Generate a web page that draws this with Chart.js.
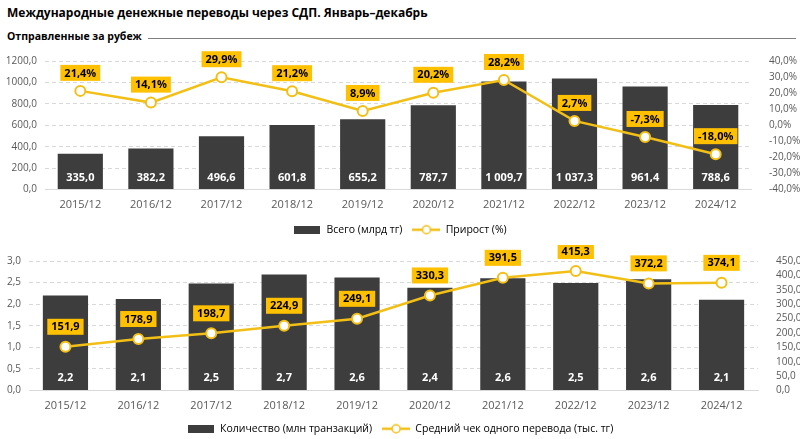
<!DOCTYPE html>
<html>
<head>
<meta charset="utf-8">
<script src="https://cdn.jsdelivr.net/npm/chart.js@4.4.1/dist/chart.umd.min.js"></script>
<style>
  body { margin: 0; background: #fff; width: 800px; height: 439px; overflow: hidden; position: relative; font-family: "Open Sans", sans-serif; }
  #title { position: absolute; left: 7px; top: 4px; font-size: 12px; font-weight: bold; color: #000; white-space: nowrap; }
  #subtitle { position: absolute; left: 7px; top: 29px; font-size: 10.5px; font-weight: bold; color: #000; white-space: nowrap; }
  #rule { position: absolute; left: 148px; right: 4px; top: 38px; border-top: 1px solid #7f7f7f; }
  #c1 { position: absolute; left: 0; top: 45px; }
  #c2 { position: absolute; left: 0; top: 245px; }
</style>
</head>
<body>
<div id="title">Международные денежные переводы через СДП. Январь–декабрь</div>
<div id="subtitle">Отправленные за рубеж</div>
<div id="rule"></div>
<canvas id="c1" width="800" height="200"></canvas>
<canvas id="c2" width="800" height="199"></canvas>
<script>
// data
const years = ["2015/12", "2016/12", "2017/12", "2018/12", "2019/12", "2020/12", "2021/12", "2022/12", "2023/12", "2024/12"];
const totalSum = [335.0, 382.2, 496.6, 601.8, 655.2, 787.7, 1009.7, 1037.3, 961.4, 788.6];
const growthPct = [21.4, 14.1, 29.9, 21.2, 8.9, 20.2, 28.2, 2.7, -7.3, -18.0];
const txCount = [2.2, 2.12, 2.48, 2.69, 2.62, 2.38, 2.6, 2.49, 2.58, 2.1];
const avgCheck = [151.9, 178.9, 198.7, 224.9, 249.1, 330.3, 391.5, 415.3, 372.2, 374.1];

const BAR = "#3d3d3d";
const GOLD = "#f2bf17";
const BOX = "#ffc000";
const FONT = "'Open Sans', sans-serif";

function fmt(v, d, spaced) {
    let s = Math.abs(v).toFixed(d);
    let parts = s.split(".");
    if (spaced) parts[0] = parts[0].replace(/\B(?=(\d{3})+(?!\d))/g, " ");
    return (v < 0 ? "-" : "") + parts[0] + (d ? "," + parts[1] : "");
}

// legend swatches
function barSwatch() {
    const c = document.createElement("canvas");
    c.width = 26; c.height = 8;
    const x = c.getContext("2d");
    x.fillStyle = BAR; x.fillRect(0, 0, 26, 8);
    return c;
}
function lineSwatch() {
    const c = document.createElement("canvas");
    c.width = 28; c.height = 12;
    const x = c.getContext("2d");
    x.strokeStyle = GOLD; x.lineWidth = 2.5;
    x.beginPath(); x.moveTo(0, 6); x.lineTo(28, 6); x.stroke();
    x.fillStyle = "#fff"; x.lineWidth = 1.5;
    x.beginPath(); x.arc(14, 6, 4, 0, Math.PI * 2); x.fill(); x.stroke();
    return c;
}

const valueLabels = {
    id: "valueLabels",
    afterDatasetsDraw(chart, args, opts) {
        const ctx = chart.ctx;
        ctx.save();
        ctx.font = "bold 11px " + FONT;
        ctx.textAlign = "center";
        ctx.textBaseline = "middle";
        // bars
        const barMeta = chart.getDatasetMeta(0);
        barMeta.data.forEach((el, i) => {
            const v = chart.data.datasets[0].data[i];
            ctx.fillStyle = "#fff";
            ctx.fillText(fmt(v, 1, true), el.x, el.base - opts.barOffset);
        });
        // line labels
        const lineMeta = chart.getDatasetMeta(1);
        lineMeta.data.forEach((el, i) => {
            const v = chart.data.datasets[1].data[i];
            const txt = fmt(v, 1, true) + opts.suffix;
            const w = ctx.measureText(txt).width + 8;
            const h = 16;
            const cy = el.y - opts.lineOffset;
            ctx.fillStyle = BOX;
            ctx.fillRect(el.x - w / 2, cy - h / 2, w, h);
            ctx.fillStyle = "#000";
            ctx.fillText(txt, el.x, cy + 0.5);
        });
        ctx.restore();
    }
};

function makeChart(id, cfg) {
    const canvas = document.getElementById(id);
    const ctx = canvas.getContext("2d");
    return new Chart(ctx, {
        type: "bar",
        data: {
            labels: years,
            datasets: [{
                type: "bar",
                label: cfg.barLabel,
                data: cfg.bars,
                backgroundColor: BAR,
                barPercentage: cfg.barPct,
                categoryPercentage: 1,
                yAxisID: "y",
                order: 2
            }, {
                type: "line",
                label: cfg.lineLabel,
                data: cfg.line,
                borderColor: GOLD,
                borderWidth: 2.5,
                pointRadius: 5,
                pointBorderWidth: 2,
                pointBackgroundColor: "#fff",
                pointBorderColor: GOLD,
                tension: 0,
                yAxisID: "y2",
                order: 1
            }]
        },
        options: {
            responsive: false,
            animation: false,
            layout: { padding: { top: cfg.padTop, left: 0, right: 0, bottom: 0 } },
            plugins: {
                legend: {
                    position: "bottom",
                    labels: {
                        usePointStyle: true,
                        pointStyleWidth: 28,
                        boxHeight: 10,
                        padding: 10,
                        color: "#404040",
                        font: { family: FONT, size: 10.5 },
                        generateLabels: () => [
                            { text: cfg.barLabel, pointStyle: barSwatch(), fillStyle: BAR, strokeStyle: BAR, lineWidth: 0, datasetIndex: 0 },
                            { text: cfg.lineLabel, pointStyle: lineSwatch(), fillStyle: GOLD, strokeStyle: GOLD, lineWidth: 0, datasetIndex: 1 }
                        ]
                    }
                },
                tooltip: { enabled: false },
                valueLabels: { suffix: cfg.suffix, barOffset: cfg.barOffset, lineOffset: cfg.lineOffset }
            },
            scales: {
                x: {
                    grid: { display: false, drawTicks: false },
                    border: { color: "#d9d9d9" },
                    ticks: { color: "#595959", font: { family: FONT, size: 11 }, padding: 9 },
                    afterFit(s) { s.height = cfg.xHeight; }
                },
                y: {
                    position: "left",
                    min: cfg.yMin, max: cfg.yMax,
                    ticks: { stepSize: cfg.yStep, color: "#595959", font: { family: FONT, size: 10 }, padding: 8,
                        callback: v => fmt(v, 1, false) },
                    grid: { color: "#d9d9d9", drawTicks: false },
                    border: { display: false, dash: [4, 3] },
                    afterFit(s) { s.width = cfg.leftW; }
                },
                y2: {
                    position: "right",
                    min: cfg.y2Min, max: cfg.y2Max,
                    ticks: { stepSize: cfg.y2Step, autoSkip: false, color: "#595959", font: { family: FONT, size: 10 }, padding: 10,
                        callback: v => fmt(v, 1, false) + cfg.suffix },
                    grid: { display: false },
                    border: { display: false },
                    afterFit(s) { s.width = cfg.rightW; }
                }
            }
        },
        plugins: [valueLabels]
    });
}

makeChart("c1", {
    bars: totalSum, line: growthPct,
    barLabel: "Всего (млрд тг)", lineLabel: "Прирост (%)",
    suffix: "%", barPct: 0.64,
    yMin: 0, yMax: 1200, yStep: 200,
    y2Min: -40, y2Max: 40, y2Step: 10,
    leftW: 45, rightW: 49, padTop: 16, xHeight: 25,
    barOffset: 11, lineOffset: 18
});

makeChart("c2", {
    bars: txCount, line: avgCheck,
    barLabel: "Количество (млн транзакций)", lineLabel: "Средний чек одного перевода (тыс. тг)",
    suffix: "", barPct: 0.62,
    yMin: 0, yMax: 3, yStep: 0.5,
    y2Min: 0, y2Max: 450, y2Step: 50,
    leftW: 29, rightW: 42, padTop: 15, xHeight: 23,
    barOffset: 12, lineOffset: 20
});
</script>
</body>
</html>
